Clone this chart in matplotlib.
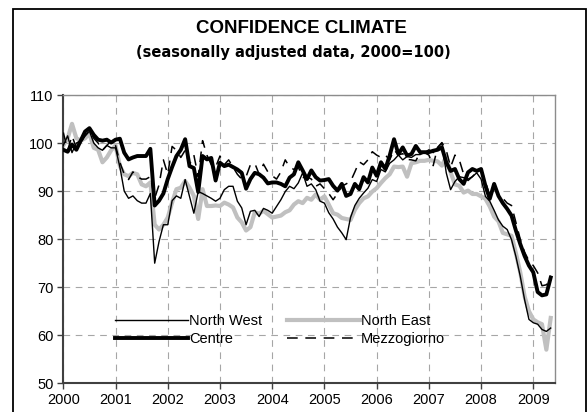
import matplotlib
matplotlib.use("Agg")
import matplotlib.pyplot as plt
from matplotlib.patches import Rectangle
import numpy as np

plt.rcParams['font.family'] = ['Liberation Sans', 'DejaVu Sans']

# Monthly data, Jan 2000 .. May 2009
north_west = [99.5, 101.5, 98, 100, 100.5, 101.5, 102.5, 100, 99, 98.5, 99.5, 99,
              99, 95, 90, 88.5, 89, 88, 87.5, 87.5, 89.5, 75, 79.5, 83,
              83, 88, 89, 88.5, 92.4, 88.9, 85.4, 89.9, 89.5, 89, 88.5, 87.9,
              88.5, 90.3, 91, 91, 87.9, 86.5, 83, 85.8, 86, 84.7, 86.4, 86,
              85.4, 86.8, 88.2, 89.9, 91, 90.5, 91.7, 93.8, 91, 91.5, 90.3, 87.9,
              87.5, 85.5, 84.2, 82.5, 81.3, 79.9, 84.5, 87, 88.5, 89.6, 90.6, 92.4,
              92, 94.5, 94, 95.8, 96.5, 97.5, 96.5, 97.2, 97, 97.6, 97.6, 98,
              98.6, 98, 99, 100, 93.8, 90.3, 92, 93, 92.8, 92.5, 93, 93.8,
              92.5, 88.9, 87.9, 86, 84, 82.7, 82, 79.9, 76.4, 72.3, 67.4, 63.3,
              62.6, 62.3, 61.2, 60.8, 61.5]

north_east = [99.5, 101, 104, 101, 100.5, 101, 102, 99, 98.6, 96, 97, 98.5,
              99.5, 95.2, 93.5, 93.1, 93.8, 93.5, 91.4, 91, 91.8, 83, 82, 83,
              84.5, 87.6, 90.4, 90.7, 92.1, 90.7, 89, 84.2, 90.4, 86.9, 86.9, 87,
              86.9, 87.6, 87.2, 86.6, 84.5, 83.5, 81.8, 82.5, 85.6, 85.3, 85.9, 85.2,
              84.5, 84.7, 84.9, 85.6, 86, 87.2, 87.9, 87.5, 88.6, 88.2, 89.3, 88.2,
              88.9, 87.2, 85.4, 85.1, 84.4, 84.2, 84, 86.1, 87.5, 88.5, 88.9, 89.9,
              90.6, 91.7, 92.7, 93.5, 95.1, 95, 95.1, 93, 95.8, 96, 96.3, 96.3,
              96.5, 96.3, 96.2, 95.3, 97.2, 93.9, 91.4, 91.1, 89.7, 90.1, 89.4, 89.4,
              88.9, 88.4, 86.8, 84.7, 83.7, 81.3, 81, 80.7, 77.1, 73.1, 68.1, 65,
              63.3, 62.7, 62.3, 57, 63.6]

centre = [98.6, 98.2, 99.7, 98.6, 100.5, 102.4, 103.1, 101.7, 100.7, 100.5, 100.7, 100.1,
          100.7, 100.9, 98, 96.6, 97, 97.3, 97.3, 97.3, 98.8, 87, 88, 89.5,
          92.5, 95, 97.3, 98.6, 100.8, 95.2, 94.8, 89.8, 97.3, 96.6, 96.9, 92.2,
          95.9, 95.2, 95.5, 95, 94.5, 93.8, 90.5, 92.5, 93.8, 93.5, 92.8, 91.6,
          91.8, 91.8, 91.5, 91, 92.8, 93.5, 96, 94.3, 92.5, 94.3, 92.9, 92.2,
          92.3, 92.5, 91.1, 90.1, 91.5, 89, 89.4, 91.5, 90.4, 92.9, 91.8, 94.9,
          93.2, 96, 94.6, 97.4, 100.8, 97.7, 99.1, 97.4, 97.7, 99.4, 98.1, 98.1,
          98.1, 98.4, 98.6, 99.1, 96, 94.2, 94.6, 92.5, 91.5, 93.9, 94.6, 94.2,
          94.6, 91.1, 88.4, 91.5, 89, 87.5, 86.3, 84.9, 81.8, 79, 76.5, 74.5,
          73.1, 69, 68.3, 68.5, 72]

mezzogiorno = [102.2, 98.5, 101.5, 99, 100, 101.5, 102.5, 101, 100, 98.5, 99.5, 100.5,
               99.5, 96, 93.5, 92.4, 94, 93, 92.5, 92.5, 93, 88.5, 91.3, 96.5,
               93.5, 99.3, 98.5, 97, 98.5, 95.5, 97.5, 93, 100.5, 97.5, 95.5, 95,
               97.3, 95.5, 96.5, 95, 93.5, 92.5, 93, 95.5, 95.8, 93.5, 95.6, 94,
               93.2, 92.5, 94, 96.5, 95, 94.5, 95, 92.8, 93, 92.5, 91, 91.5,
               90.5, 89.5, 88.2, 89.5, 91, 91.5, 92, 94, 96.1, 95.5, 96.5, 98.2,
               97.5, 97, 97.5, 96.5, 98.6, 97.5, 97.8, 96.6, 96.5, 96.3, 98, 98,
               97.5, 95.3, 99.1, 100.1, 98.5, 95, 97.5, 96.5, 93.5, 92.2, 93, 94,
               94.6, 92, 89, 90.8, 89.5, 88.5, 87.5, 87, 83.5, 80, 77.3, 75.5,
               74.5, 73, 70.3, 70.5, 72.4]

years = [2000, 2001, 2002, 2003, 2004, 2005, 2006, 2007, 2008, 2009]
y_ticks = [50, 60, 70, 80, 90, 100, 110]

n = len(centre)
x = 2000 + np.arange(n) / 12.0

W, H = 588, 412
fig = plt.figure(figsize=(W / 100, H / 100), dpi=100)
fig.patch.set_facecolor('white')

ax_l, ax_r, ax_t, ax_b = 63.3, 555.0, 95.0, 383.3
ax = fig.add_axes([ax_l / W, 1 - ax_b / H, (ax_r - ax_l) / W, (ax_b - ax_t) / H])

ax.plot(x, north_west, color='black', lw=1.0, label='North West', zorder=3)
ax.plot(x, north_east, color='#c0c0c0', lw=3.0, label='North East', zorder=2,
        solid_joinstyle='round')
ax.plot(x, centre, color='black', lw=2.8, label='Centre', zorder=4,
        solid_joinstyle='round')
ax.plot(x, mezzogiorno, color='black', lw=1.1, ls=(0, (7, 5)), label='Mezzogiorno',
        zorder=5)

ax.set_xlim(2000, 2009 + 21.7 / 52.2)
ax.set_ylim(50, 110)
ax.set_xticks(years)
ax.set_xticklabels([str(y) for y in years])
ax.set_yticks(y_ticks)
ax.set_yticklabels([str(v) for v in y_ticks])

ax.grid(True, color='#a6a6a6', ls=(0, (6, 5)), lw=0.8)
ax.set_axisbelow(True)

for s in ['left', 'bottom']:
    ax.spines[s].set_color('#404040')
    ax.spines[s].set_linewidth(1.5)
for s in ['top', 'right']:
    ax.spines[s].set_color('#8c8c8c')
    ax.spines[s].set_linewidth(1.0)

ax.tick_params(axis='both', direction='out', length=4, width=1, color='#404040',
               labelsize=10.5, pad=3)

handles, labels = ax.get_legend_handles_labels()
order = [0, 2, 1, 3]
leg = ax.legend([handles[i] for i in order], [labels[i] for i in order],
                ncol=2, frameon=False, fontsize=10.5,
                handlelength=5.0, handletextpad=0.05, columnspacing=1.7,
                labelspacing=0.3, loc='center',
                bbox_to_anchor=((280 - ax_l) / (ax_r - ax_l), (ax_b - 330) / (ax_b - ax_t)))

fig.text(301.5 / W, 1 - 28.5 / H, 'CONFIDENCE CLIMATE', ha='center', va='center',
         fontsize=13.5, fontweight='bold')
fig.text(293.5 / W, 1 - 52 / H, '(seasonally adjusted data, 2000=100)', ha='center',
         va='center', fontsize=10.5, fontweight='bold', family=['DejaVu Sans'])

fig.add_artist(Rectangle((13 / W, -0.1), (586 - 13) / W, 1 - 9 / H + 0.1,
                         transform=fig.transFigure, fill=False, lw=1.3,
                         edgecolor='black'))

fig.savefig('out.png', dpi=100)
